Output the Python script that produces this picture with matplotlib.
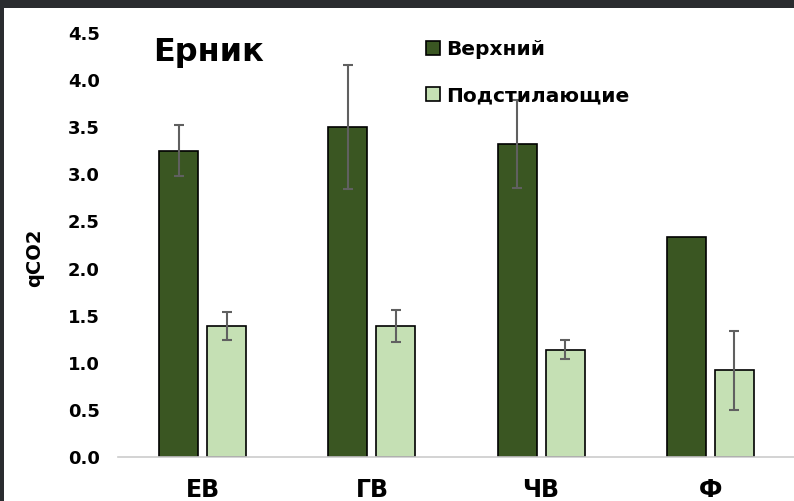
import matplotlib
matplotlib.use("Agg")
import matplotlib.pyplot as plt
import numpy as np
from matplotlib.patches import Rectangle, Patch

# Data
categories = ["ЕВ", "ГВ", "ЧВ", "Ф"]
series_names = ["Верхний", "Подстилающие"]
upper = [3.25, 3.50, 3.32, 2.34]
upper_err = [0.27, 0.66, 0.465, 0.0]
lower = [1.39, 1.39, 1.14, 0.92]
lower_err = [0.15, 0.17, 0.10, 0.42]
yticks = [0.0, 0.5, 1.0, 1.5, 2.0, 2.5, 3.0, 3.5, 4.0, 4.5]
title = "Ерник"
ylabel = "qCO2"

dark_green = "#3a5622"
light_green = "#c5e0b4"
err_color = "#606060"

W, H = 794, 501
fig = plt.figure(figsize=(W / 100, H / 100), dpi=100)
fig.patch.set_facecolor("white")

# dark frame strips
fig.patches.append(Rectangle((0, 1 - 7.5 / H), 1, 7.5 / H, transform=fig.transFigure,
                             facecolor="#2a2c2f", edgecolor="none", zorder=10))
fig.patches.append(Rectangle((0, 0), 4 / W, 1, transform=fig.transFigure,
                             facecolor="#2a2c2f", edgecolor="none", zorder=10))

ax = fig.add_axes([118 / W, (H - 457) / H, (795 - 118) / W, (457 - 33) / H])

x = np.arange(len(categories))
bw = 0.23
off = 0.142

ax.bar(x - off, upper, width=bw, color=dark_green, edgecolor="black", linewidth=1.2, zorder=2)
ax.bar(x + off, lower, width=bw, color=light_green, edgecolor="black", linewidth=1.2, zorder=2)

ue = np.array(upper_err)
m = ue > 0
ax.errorbar((x - off)[m], np.array(upper)[m], yerr=ue[m], fmt="none", ecolor=err_color,
            elinewidth=1.5, capsize=3.6, capthick=1.5, zorder=3)
le = np.array(lower_err)
m = le > 0
ax.errorbar((x + off)[m], np.array(lower)[m], yerr=le[m], fmt="none", ecolor=err_color,
            elinewidth=1.5, capsize=3.6, capthick=1.5, zorder=3)

ax.set_xlim(-0.5, len(categories) - 0.5)
ax.set_ylim(0, 4.5)
ax.set_yticks(yticks)
ax.set_yticklabels([f"{v:.1f}" for v in yticks], fontsize=13, fontweight="bold")
ax.set_xticks(x)
ax.set_xticklabels(categories, fontsize=17, fontweight="bold")
ax.tick_params(axis="y", length=0, pad=13)
ax.tick_params(axis="x", length=0, pad=15)
for s in ["top", "right", "left"]:
    ax.spines[s].set_visible(False)
ax.spines["bottom"].set_color("#cccccc")
ax.spines["bottom"].set_linewidth(1.2)

fig.text(153 / W, 1 - 52 / H, title, fontsize=23, fontweight="bold", ha="left", va="center")
fig.text(35 / W, 1 - 258 / H, ylabel, fontsize=14, fontweight="bold", rotation=90,
         ha="center", va="center")

handles = [Patch(facecolor=dark_green, edgecolor="black", linewidth=1.2),
           Patch(facecolor=light_green, edgecolor="black", linewidth=1.2)]
fig.legend(handles, series_names, loc="upper left", bbox_to_anchor=(426 / W, 1 - 40 / H),
           frameon=False, borderpad=0, borderaxespad=0, handlelength=0.7, handleheight=0.7,
           handletextpad=0.3, labelspacing=1.35, prop={"size": 14.5, "weight": "bold"})

fig.savefig("out.png", dpi=100)
